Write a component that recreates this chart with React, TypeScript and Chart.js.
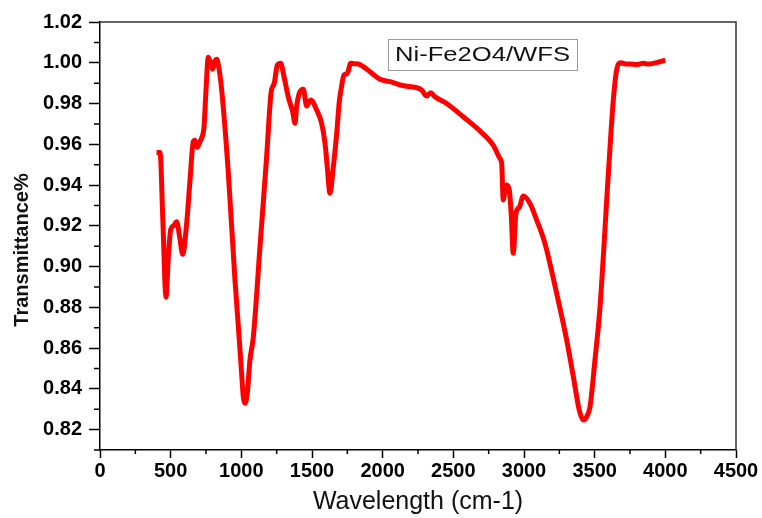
import React, { useEffect, useRef } from "react";
import { Chart, registerables } from "chart.js";

Chart.register(...registerables);

const wavenumbers = [
  400, 425, 445, 467, 484, 500, 520, 542, 565, 585, 613, 637, 660, 672, 688, 707, 719, 736, 750, 766,
  783, 797, 814, 825, 840, 861, 908, 955, 979, 1002, 1014, 1026, 1042, 1061, 1085, 1132, 1179, 1210,
  1233, 1255, 1278, 1302, 1332, 1363, 1380, 1391, 1410, 1439, 1462, 1491, 1533, 1568, 1592, 1608,
  1627, 1651, 1675, 1693, 1709, 1726, 1750, 1774, 1800, 1828, 1863, 1910, 1981, 2052, 2123, 2170,
  2276, 2311, 2340, 2370, 2453, 2570, 2689, 2783, 2830, 2842, 2853, 2865, 2877, 2896, 2910, 2924,
  2943, 2967, 2995, 3042, 3090, 3148, 3231, 3302, 3349, 3391, 3420, 3443, 3467, 3502, 3538, 3597,
  3632, 3655, 3684, 3720, 3750, 3800, 3844, 3880, 3915, 3960, 4000,
];

const transmittance = [
  0.956, 0.956, 0.922, 0.885, 0.905, 0.918, 0.92, 0.922, 0.914, 0.906, 0.921, 0.9425, 0.9613, 0.962,
  0.9585, 0.9613, 0.963, 0.9686, 0.9866, 1.0027, 0.9997, 0.9968, 1.001, 1.0017, 0.998, 0.9866,
  0.9458, 0.8934, 0.8705, 0.8476, 0.836, 0.8329, 0.8378, 0.8541, 0.8656, 0.9097, 0.9539, 0.985, 0.99,
  0.9989, 0.9997, 0.9932, 0.9833, 0.976, 0.9703, 0.9784, 0.985, 0.987, 0.9788, 0.9817, 0.9768, 0.9703,
  0.9605, 0.949, 0.936, 0.949, 0.9654, 0.9809, 0.9883, 0.994, 0.9948, 0.9997, 0.9995, 0.9994, 0.9981,
  0.9956, 0.9919, 0.9907, 0.9891, 0.9885, 0.9866, 0.9837, 0.9853, 0.9833, 0.98, 0.9735, 0.9665,
  0.9595, 0.953, 0.9507, 0.9327, 0.937, 0.94, 0.9376, 0.925, 0.9065, 0.9261, 0.9291, 0.9346, 0.931,
  0.9228, 0.9114, 0.8869, 0.864, 0.846, 0.8296, 0.8247, 0.8263, 0.8312, 0.8541, 0.8803, 0.9458,
  0.9817, 0.9964, 1.0, 0.9994, 0.9994, 0.9992, 0.9997, 0.9994, 0.9997, 1.0005, 1.0013,
];

const xMajorTicks = [0, 500, 1000, 1500, 2000, 2500, 3000, 3500, 4000, 4500];
const xMinorTicks = [250, 750, 1250, 1750, 2250, 2750, 3250, 3750, 4250];
const yMajorTicks = [0.82, 0.84, 0.86, 0.88, 0.9, 0.92, 0.94, 0.96, 0.98, 1.0, 1.02];
const yMinorTicks = [0.81, 0.83, 0.85, 0.87, 0.89, 0.91, 0.93, 0.95, 0.97, 0.99, 1.01];

const seriesLabel = "Ni-Fe2O4/WFS";
const xTitle = "Wavelength (cm-1)";
const yTitle = "Transmittance%";

const FONT = "'Liberation Sans', Arial, sans-serif";

const framePlugin = {
  id: "frame",
  afterDraw(chart: any) {
    const { ctx, chartArea } = chart;
    const xs = chart.scales.x;
    const ys = chart.scales.y;
    ctx.save();
    // top and right frame lines
    ctx.strokeStyle = "#333333";
    ctx.lineWidth = 1.5;
    ctx.beginPath();
    ctx.moveTo(chartArea.left, chartArea.top);
    ctx.lineTo(chartArea.right, chartArea.top);
    ctx.lineTo(chartArea.right, chartArea.bottom);
    ctx.stroke();
    // minor ticks
    ctx.strokeStyle = "#000000";
    ctx.lineWidth = 1.5;
    ctx.beginPath();
    xMinorTicks.forEach((v) => {
      const px = xs.getPixelForValue(v);
      ctx.moveTo(px, chartArea.bottom);
      ctx.lineTo(px, chartArea.bottom + 4);
    });
    yMinorTicks.forEach((v) => {
      const py = ys.getPixelForValue(v);
      ctx.moveTo(chartArea.left, py);
      ctx.lineTo(chartArea.left - 6, py);
    });
    ctx.stroke();
    // y axis title
    ctx.save();
    ctx.fillStyle = "#111111";
    ctx.font = `bold 20px ${FONT}`;
    ctx.textAlign = "center";
    ctx.textBaseline = "middle";
    ctx.translate(22, (chartArea.top + chartArea.bottom) / 2 + 14);
    ctx.rotate(-Math.PI / 2);
    ctx.fillText(yTitle, 0, 0);
    ctx.restore();
    // label box
    const bx = chartArea.left + 288;
    const by = chartArea.top + 17;
    const bw = 189;
    const bh = 31;
    ctx.fillStyle = "#ffffff";
    ctx.fillRect(bx, by, bw, bh);
    ctx.strokeStyle = "#9a9a9a";
    ctx.lineWidth = 1;
    ctx.strokeRect(bx + 0.5, by + 0.5, bw, bh);
    ctx.fillStyle = "#111111";
    ctx.font = `21px ${FONT}`;
    ctx.textAlign = "center";
    ctx.textBaseline = "middle";
    ctx.translate(bx + bw / 2, by + bh / 2 + 1);
    ctx.scale(1.22, 1);
    ctx.fillText(seriesLabel, 0, 0);
    ctx.restore();
  },
};

export default function App() {
  const canvasRef = useRef<HTMLCanvasElement | null>(null);

  useEffect(() => {
    if (!canvasRef.current) return;
    const points = wavenumbers.map((w, i) => ({ x: w, y: transmittance[i] }));
    const chart = new Chart(canvasRef.current, {
      type: "line",
      data: {
        datasets: [
          {
            label: seriesLabel,
            data: points,
            borderColor: "#ff0000",
            borderWidth: 5,
            pointRadius: 0,
            fill: false,
            cubicInterpolationMode: "monotone",
          },
        ],
      },
      options: {
        animation: false,
        responsive: true,
        maintainAspectRatio: false,
        layout: { padding: { left: 0, top: 22, right: 26, bottom: 0 } },
        plugins: {
          legend: { display: false },
          tooltip: { enabled: false },
        },
        scales: {
          x: {
            type: "linear",
            min: 0,
            max: 4500,
            afterFit: (s: any) => {
              s.height = 68;
            },
            afterBuildTicks: (s: any) => {
              s.ticks = xMajorTicks.map((v) => ({ value: v }));
            },
            grid: {
              drawOnChartArea: false,
              drawTicks: true,
              tickLength: 8,
              tickColor: "#000",
              tickWidth: 1.5,
            },
            border: { display: true, color: "#000", width: 1.5 },
            ticks: {
              color: "#000",
              padding: 1,
              maxRotation: 0,
              autoSkip: false,
              font: { family: FONT, size: 20, weight: "bold" },
              callback: (v: any) => String(v),
            },
            title: {
              display: true,
              text: xTitle,
              color: "#111",
              font: { family: FONT, size: 25 },
              padding: { top: 0, bottom: 1 },
            },
          },
          y: {
            type: "linear",
            min: 0.81,
            max: 1.02,
            afterFit: (s: any) => {
              s.width = 100;
            },
            afterBuildTicks: (s: any) => {
              s.ticks = yMajorTicks.map((v) => ({ value: v }));
            },
            grid: {
              drawOnChartArea: false,
              drawTicks: true,
              tickLength: 11,
              tickColor: "#000",
              tickWidth: 1.5,
            },
            border: { display: true, color: "#000", width: 1.5 },
            ticks: {
              color: "#000",
              padding: 7,
              autoSkip: false,
              font: { family: FONT, size: 20, weight: "bold" },
              callback: (v: any) => Number(v).toFixed(2),
            },
            title: { display: false },
          },
        },
      },
      plugins: [framePlugin],
    });
    return () => chart.destroy();
  }, []);

  return (
    <div style={{ position: "absolute", left: 0, top: 0, width: 762, height: 518, background: "#fff" }}>
      <canvas ref={canvasRef} />
    </div>
  );
}
